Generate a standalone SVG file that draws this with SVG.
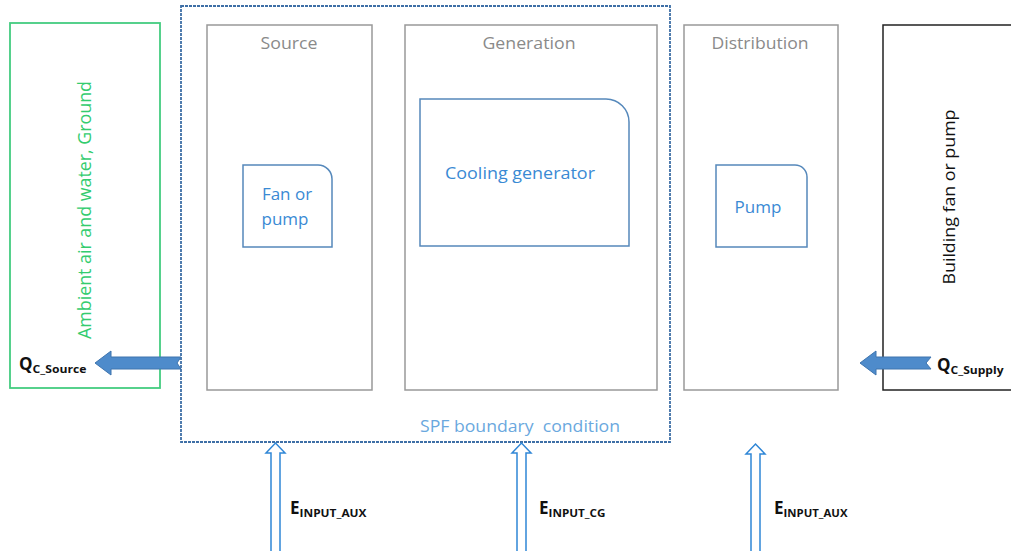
<svg xmlns="http://www.w3.org/2000/svg" width="1011" height="551" viewBox="0 0 1011 551">
<style>
.box{fill:#fff;stroke:#999;stroke-width:1.5}
.title{font-family:"Open Sans","Liberation Sans",sans-serif;font-size:16px;fill:#8a8a8a;text-anchor:middle}
.node{fill:#fff;stroke:#5588bb;stroke-width:1.5}
.ntext{font-family:"Open Sans","Liberation Sans",sans-serif;font-size:17px;fill:#3a8ad4}
.lbl{font-family:"Open Sans","Liberation Sans",sans-serif;font-weight:bold;fill:#111}
.big{font-size:17px}
.sub{font-size:11px}
.flow{fill:#4e8bcb;stroke:#3e74ae;stroke-width:1}
.inp{fill:#fff;stroke:#2f86d6;stroke-width:1.5}
</style>
<rect width="1011" height="551" fill="#fff"/>

<g id="ambient">
<rect x="10" y="23" width="150" height="365" fill="#fff" stroke="#44cc80" stroke-width="1.8"/>
<text transform="translate(91,210) rotate(-90)" text-anchor="middle" font-family="Open Sans, Liberation Sans, sans-serif" font-size="18" fill="#33cc6e" textLength="258" lengthAdjust="spacingAndGlyphs">Ambient air and water, Ground</text>
</g>

<g id="building">
<rect x="883" y="25" width="140" height="365" fill="#fff" stroke="#222" stroke-width="1.5"/>
<text transform="translate(955,197) rotate(-90)" text-anchor="middle" font-family="Open Sans, Liberation Sans, sans-serif" font-size="17" fill="#111" textLength="175" lengthAdjust="spacingAndGlyphs">Building fan or pump</text>
</g>

<g id="spf-boundary">
<rect x="181" y="6" width="489" height="436" fill="none" stroke="#3e6fa6" stroke-width="1.8" stroke-dasharray="3,1"/>
<text x="420" y="432" font-family="Open Sans, Liberation Sans, sans-serif" font-size="17" fill="#6aa8de" style="white-space:pre" textLength="200" lengthAdjust="spacingAndGlyphs">SPF boundary  condition</text>
</g>

<g id="source">
<rect class="box" x="207" y="25" width="165" height="365"/>
<text class="title" x="289" y="49" textLength="57" lengthAdjust="spacingAndGlyphs">Source</text>
</g>
<g id="generation">
<rect class="box" x="405" y="25" width="252" height="365"/>
<text class="title" x="529" y="49" textLength="93" lengthAdjust="spacingAndGlyphs">Generation</text>
</g>
<g id="distribution">
<rect class="box" x="684" y="25" width="154" height="365"/>
<text class="title" x="760" y="49" textLength="97" lengthAdjust="spacingAndGlyphs">Distribution</text>
</g>

<g id="fan-or-pump">
<path class="node" d="M243,165 H318 A14,14 0 0 1 332,179 V247 H243 Z"/>
<text class="ntext" x="287" y="200" text-anchor="middle">Fan or</text>
<text class="ntext" x="285" y="225" text-anchor="middle">pump</text>
</g>
<g id="cooling-generator">
<path class="node" d="M420,99 H606 A23,23 0 0 1 629,122 V246 H420 Z"/>
<text class="ntext" x="445" y="179" textLength="150" lengthAdjust="spacingAndGlyphs">Cooling generator</text>
</g>
<g id="pump">
<path class="node" d="M716,165 H795 A12,12 0 0 1 807,177 V247 H716 Z"/>
<text class="ntext" x="758" y="213" text-anchor="middle">Pump</text>
</g>

<g id="connectors">
<path class="flow" d="M181,357 H111 V351 L95,363 L111,375 V369 H181 L177,363 Z"/>
<path class="flow" d="M931,357 H876 V351 L860,363 L876,375 V369 H931 L926,363 Z"/>
<path class="inp" d="M271,552 V453 H266 L275.5,443 L285,453 H280 V552"/>
<path class="inp" d="M517,552 V453 H512 L521.5,443 L531,453 H526 V552"/>
<path class="inp" d="M751,552 V454 H746 L755.5,444 L765,454 H760 V552"/>
</g>

<g id="labels">
<text class="lbl" x="19" y="370"><tspan class="big">Q</tspan><tspan class="sub" dy="3" textLength="54" lengthAdjust="spacingAndGlyphs">C_Source</tspan></text>
<text class="lbl" x="937" y="371"><tspan class="big">Q</tspan><tspan class="sub" dy="3" textLength="53" lengthAdjust="spacingAndGlyphs">C_Supply</tspan></text>
<text class="lbl" x="290" y="514"><tspan class="big">E</tspan><tspan class="sub" dy="3" textLength="67" lengthAdjust="spacingAndGlyphs">INPUT_AUX</tspan></text>
<text class="lbl" x="539" y="514"><tspan class="big">E</tspan><tspan class="sub" dy="3" textLength="57" lengthAdjust="spacingAndGlyphs">INPUT_CG</tspan></text>
<text class="lbl" x="774" y="514"><tspan class="big">E</tspan><tspan class="sub" dy="3" textLength="64" lengthAdjust="spacingAndGlyphs">INPUT_AUX</tspan></text>
</g>
</svg>
